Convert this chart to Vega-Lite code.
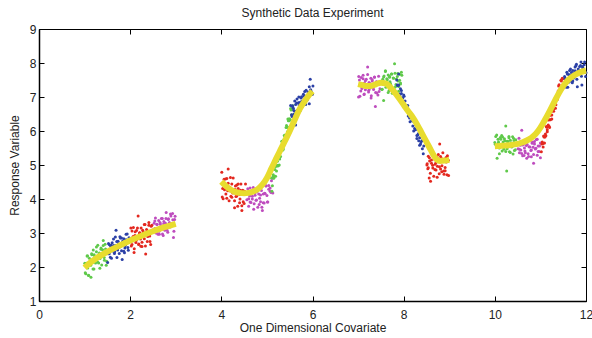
{
"$schema":"https://vega.github.io/schema/vega-lite/v6.json",
"width":547,"height":272,
"autosize":{"type":"none"},
"padding":{"left":39,"top":29,"right":6,"bottom":37},
"title":{"text":"Synthetic Data Experiment","fontSize":12,"fontWeight":"normal","font":"Liberation Sans","color":"#222","offset":3},
"config":{
 "view":{"stroke":"#000","strokeWidth":1},
 "axis":{"labelFont":"Liberation Sans","labelFontSize":12,"labelColor":"#222","labelFlush":false,"titleFont":"Liberation Sans","titleFontSize":12,"titleFontWeight":"normal","titleColor":"#222","domainColor":"#000","domainWidth":1.5,"tickColor":"#000","tickSize":-5,"grid":false}
},
"datasets":{
"pts":[
{"x":1.005,"y":2.11,"c":"g"},{"x":1.025,"y":1.80,"c":"g"},{"x":1.04,"y":2.07,"c":"g"},{"x":1.055,"y":2.32,"c":"g"},{"x":1.07,"y":1.97,"c":"g"},{"x":1.09,"y":1.75,"c":"g"},{"x":1.105,"y":2.26,"c":"g"},{"x":1.125,"y":2.14,"c":"g"},{"x":1.14,"y":1.70,"c":"g"},{"x":1.155,"y":2.39,"c":"g"},{"x":1.175,"y":2.13,"c":"g"},{"x":1.19,"y":2.50,"c":"g"},{"x":1.205,"y":1.94,"c":"g"},{"x":1.225,"y":2.30,"c":"g"},{"x":1.24,"y":2.12,"c":"g"},{"x":1.26,"y":2.45,"c":"g"},{"x":1.275,"y":2.25,"c":"g"},{"x":1.29,"y":2.64,"c":"g"},{"x":1.31,"y":2.12,"c":"g"},{"x":1.325,"y":2.41,"c":"g"},{"x":1.34,"y":2.25,"c":"g"},{"x":1.36,"y":2.56,"c":"g"},{"x":1.375,"y":2.06,"c":"g"},{"x":1.395,"y":2.51,"c":"g"},{"x":1.41,"y":2.78,"c":"g"},{"x":1.43,"y":2.28,"c":"g"},{"x":1.45,"y":2.67,"c":"g"},{"x":1.475,"y":2.05,"c":"g"},
{"x":1.015,"y":1.83,"c":"g"},{"x":1.04,"y":2.11,"c":"g"},{"x":1.065,"y":2.32,"c":"g"},{"x":1.085,"y":1.76,"c":"g"},{"x":1.11,"y":2.14,"c":"g"},{"x":1.135,"y":2.05,"c":"g"},{"x":1.16,"y":2.36,"c":"g"},{"x":1.185,"y":1.94,"c":"g"},{"x":1.21,"y":2.36,"c":"g"},{"x":1.235,"y":2.22,"c":"g"},{"x":1.26,"y":2.59,"c":"g"},{"x":1.285,"y":2.15,"c":"g"},{"x":1.31,"y":2.37,"c":"g"},{"x":1.335,"y":1.96,"c":"g"},{"x":1.36,"y":2.52,"c":"g"},{"x":1.385,"y":2.31,"c":"g"},{"x":1.41,"y":2.63,"c":"g"},{"x":1.435,"y":2.20,"c":"g"},{"x":1.46,"y":2.53,"c":"g"},{"x":1.485,"y":2.17,"c":"g"},
{"x":1.505,"y":2.13,"c":"b"},{"x":1.525,"y":2.69,"c":"b"},{"x":1.54,"y":2.39,"c":"b"},{"x":1.555,"y":2.49,"c":"b"},{"x":1.57,"y":2.62,"c":"b"},{"x":1.59,"y":2.26,"c":"b"},{"x":1.605,"y":2.71,"c":"b"},{"x":1.625,"y":2.47,"c":"b"},{"x":1.64,"y":2.63,"c":"b"},{"x":1.655,"y":2.40,"c":"b"},{"x":1.675,"y":2.88,"c":"b"},{"x":1.69,"y":3.08,"c":"b"},{"x":1.705,"y":2.75,"c":"b"},{"x":1.725,"y":2.50,"c":"b"},{"x":1.74,"y":2.68,"c":"b"},{"x":1.76,"y":2.40,"c":"b"},{"x":1.775,"y":2.89,"c":"b"},{"x":1.79,"y":2.61,"c":"b"},{"x":1.81,"y":2.85,"c":"b"},{"x":1.825,"y":2.22,"c":"b"},{"x":1.84,"y":2.69,"c":"b"},{"x":1.86,"y":2.83,"c":"b"},{"x":1.875,"y":2.42,"c":"b"},{"x":1.895,"y":2.63,"c":"b"},{"x":1.91,"y":2.96,"c":"b"},{"x":1.93,"y":2.77,"c":"b"},{"x":1.95,"y":2.57,"c":"b"},{"x":1.975,"y":2.86,"c":"b"},
{"x":1.515,"y":2.39,"c":"b"},{"x":1.54,"y":2.66,"c":"b"},{"x":1.565,"y":2.29,"c":"b"},{"x":1.585,"y":2.64,"c":"b"},{"x":1.61,"y":2.51,"c":"b"},{"x":1.635,"y":2.82,"c":"b"},{"x":1.66,"y":2.45,"c":"b"},{"x":1.685,"y":2.63,"c":"b"},{"x":1.71,"y":2.28,"c":"b"},{"x":1.735,"y":2.76,"c":"b"},{"x":1.76,"y":2.58,"c":"b"},{"x":1.785,"y":2.85,"c":"b"},{"x":1.81,"y":2.48,"c":"b"},{"x":1.835,"y":2.76,"c":"b"},{"x":1.86,"y":2.46,"c":"b"},{"x":1.885,"y":2.56,"c":"b"},{"x":1.91,"y":2.80,"c":"b"},{"x":1.935,"y":2.97,"c":"b"},{"x":1.96,"y":2.49,"c":"b"},{"x":1.985,"y":2.80,"c":"b"},
{"x":2.005,"y":2.80,"c":"r"},{"x":2.025,"y":2.62,"c":"r"},{"x":2.04,"y":3.06,"c":"r"},{"x":2.055,"y":2.77,"c":"r"},{"x":2.07,"y":3.16,"c":"r"},{"x":2.09,"y":2.54,"c":"r"},{"x":2.105,"y":2.93,"c":"r"},{"x":2.125,"y":2.72,"c":"r"},{"x":2.14,"y":3.07,"c":"r"},{"x":2.155,"y":2.84,"c":"r"},{"x":2.175,"y":3.50,"c":"r"},{"x":2.19,"y":2.68,"c":"r"},{"x":2.205,"y":3.00,"c":"r"},{"x":2.225,"y":2.82,"c":"r"},{"x":2.24,"y":3.15,"c":"r"},{"x":2.26,"y":2.60,"c":"r"},{"x":2.275,"y":3.08,"c":"r"},{"x":2.29,"y":2.94,"c":"r"},{"x":2.31,"y":2.83,"c":"r"},{"x":2.325,"y":3.25,"c":"r"},{"x":2.34,"y":2.38,"c":"r"},{"x":2.36,"y":3.10,"c":"r"},{"x":2.375,"y":2.75,"c":"r"},{"x":2.395,"y":3.05,"c":"r"},{"x":2.41,"y":3.31,"c":"r"},{"x":2.43,"y":2.91,"c":"r"},{"x":2.45,"y":2.66,"c":"r"},{"x":2.475,"y":3.23,"c":"r"},
{"x":2.015,"y":3.15,"c":"r"},{"x":2.04,"y":2.66,"c":"r"},{"x":2.065,"y":2.90,"c":"r"},{"x":2.085,"y":2.43,"c":"r"},{"x":2.11,"y":3.04,"c":"r"},{"x":2.135,"y":2.79,"c":"r"},{"x":2.16,"y":3.15,"c":"r"},{"x":2.185,"y":2.66,"c":"r"},{"x":2.21,"y":3.01,"c":"r"},{"x":2.235,"y":2.61,"c":"r"},{"x":2.26,"y":2.73,"c":"r"},{"x":2.285,"y":3.03,"c":"r"},{"x":2.31,"y":3.25,"c":"r"},{"x":2.335,"y":2.62,"c":"r"},{"x":2.36,"y":3.01,"c":"r"},{"x":2.385,"y":2.90,"c":"r"},{"x":2.41,"y":3.23,"c":"r"},{"x":2.435,"y":2.75,"c":"r"},{"x":2.46,"y":3.20,"c":"r"},{"x":2.485,"y":3.03,"c":"r"},
{"x":2.505,"y":3.03,"c":"m"},{"x":2.525,"y":3.29,"c":"m"},{"x":2.54,"y":3.13,"c":"m"},{"x":2.555,"y":3.44,"c":"m"},{"x":2.57,"y":3.02,"c":"m"},{"x":2.59,"y":3.25,"c":"m"},{"x":2.605,"y":3.12,"c":"m"},{"x":2.625,"y":3.37,"c":"m"},{"x":2.64,"y":2.96,"c":"m"},{"x":2.655,"y":3.31,"c":"m"},{"x":2.675,"y":3.21,"c":"m"},{"x":2.69,"y":3.13,"c":"m"},{"x":2.705,"y":3.43,"c":"m"},{"x":2.725,"y":2.93,"c":"m"},{"x":2.74,"y":3.34,"c":"m"},{"x":2.76,"y":3.08,"c":"m"},{"x":2.775,"y":3.29,"c":"m"},{"x":2.79,"y":3.60,"c":"m"},{"x":2.81,"y":3.20,"c":"m"},{"x":2.825,"y":3.02,"c":"m"},{"x":2.84,"y":3.42,"c":"m"},{"x":2.86,"y":3.31,"c":"m"},{"x":2.875,"y":3.18,"c":"m"},{"x":2.895,"y":3.50,"c":"m"},{"x":2.91,"y":3.28,"c":"m"},{"x":2.93,"y":3.57,"c":"m"},{"x":2.95,"y":2.87,"c":"m"},{"x":2.975,"y":3.40,"c":"m"},
{"x":2.515,"y":3.10,"c":"m"},{"x":2.54,"y":3.35,"c":"m"},{"x":2.565,"y":3.00,"c":"m"},{"x":2.585,"y":3.26,"c":"m"},{"x":2.61,"y":2.96,"c":"m"},{"x":2.635,"y":3.05,"c":"m"},{"x":2.66,"y":3.27,"c":"m"},{"x":2.685,"y":3.43,"c":"m"},{"x":2.71,"y":2.97,"c":"m"},{"x":2.735,"y":3.27,"c":"m"},{"x":2.76,"y":3.19,"c":"m"},{"x":2.785,"y":3.43,"c":"m"},{"x":2.81,"y":3.08,"c":"m"},{"x":2.835,"y":3.40,"c":"m"},{"x":2.86,"y":3.28,"c":"m"},{"x":2.885,"y":3.56,"c":"m"},{"x":2.91,"y":3.21,"c":"m"},{"x":2.935,"y":3.39,"c":"m"},{"x":2.96,"y":3.05,"c":"m"},{"x":2.985,"y":3.49,"c":"m"},
{"x":4.01,"y":4.79,"c":"r"},{"x":4.03,"y":4.31,"c":"r"},{"x":4.04,"y":4.01,"c":"r"},{"x":4.06,"y":4.58,"c":"r"},{"x":4.08,"y":4.38,"c":"r"},{"x":4.10,"y":4.15,"c":"r"},{"x":4.12,"y":4.60,"c":"r"},{"x":4.14,"y":4.24,"c":"r"},{"x":4.15,"y":4.88,"c":"r"},{"x":4.17,"y":3.95,"c":"r"},{"x":4.19,"y":4.34,"c":"r"},{"x":4.21,"y":4.08,"c":"r"},{"x":4.23,"y":4.44,"c":"r"},{"x":4.25,"y":4.18,"c":"r"},{"x":4.26,"y":4.62,"c":"r"},{"x":4.29,"y":3.95,"c":"r"},{"x":4.30,"y":4.28,"c":"r"},{"x":4.32,"y":4.07,"c":"r"},{"x":4.34,"y":4.41,"c":"r"},{"x":4.36,"y":3.79,"c":"r"},{"x":4.37,"y":4.31,"c":"r"},{"x":4.40,"y":4.13,"c":"r"},{"x":4.41,"y":4.00,"c":"r"},{"x":4.43,"y":4.44,"c":"r"},{"x":4.45,"y":3.66,"c":"r"},{"x":4.47,"y":4.26,"c":"r"},{"x":4.50,"y":3.87,"c":"r"},{"x":4.52,"y":4.18,"c":"r"},
{"x":4.02,"y":4.06,"c":"r"},{"x":4.04,"y":4.46,"c":"r"},{"x":4.07,"y":4.27,"c":"r"},{"x":4.09,"y":4.59,"c":"r"},{"x":4.12,"y":4.02,"c":"r"},{"x":4.15,"y":4.46,"c":"r"},{"x":4.18,"y":4.24,"c":"r"},{"x":4.20,"y":4.63,"c":"r"},{"x":4.23,"y":4.05,"c":"r"},{"x":4.26,"y":4.27,"c":"r"},{"x":4.29,"y":3.74,"c":"r"},{"x":4.31,"y":4.38,"c":"r"},{"x":4.34,"y":4.09,"c":"r"},{"x":4.37,"y":4.44,"c":"r"},{"x":4.40,"y":3.89,"c":"r"},{"x":4.42,"y":4.26,"c":"r"},{"x":4.45,"y":3.80,"c":"r"},{"x":4.48,"y":3.92,"c":"r"},{"x":4.51,"y":4.23,"c":"r"},{"x":4.53,"y":4.44,"c":"r"},
{"x":4.56,"y":3.98,"c":"m"},{"x":4.58,"y":4.30,"c":"m"},{"x":4.60,"y":3.79,"c":"m"},{"x":4.62,"y":4.09,"c":"m"},{"x":4.63,"y":3.91,"c":"m"},{"x":4.66,"y":4.19,"c":"m"},{"x":4.68,"y":4.00,"c":"m"},{"x":4.70,"y":4.34,"c":"m"},{"x":4.72,"y":3.86,"c":"m"},{"x":4.74,"y":4.11,"c":"m"},{"x":4.76,"y":3.96,"c":"m"},{"x":4.78,"y":4.22,"c":"m"},{"x":4.80,"y":3.76,"c":"m"},{"x":4.82,"y":4.15,"c":"m"},{"x":4.84,"y":4.02,"c":"m"},{"x":4.86,"y":3.92,"c":"m"},{"x":4.88,"y":4.25,"c":"m"},{"x":4.90,"y":3.66,"c":"m"},{"x":4.92,"y":4.15,"c":"m"},{"x":4.94,"y":3.88,"c":"m"},{"x":4.96,"y":4.16,"c":"m"},{"x":4.98,"y":4.39,"c":"m"},{"x":5.00,"y":4.10,"c":"m"},{"x":5.02,"y":3.91,"c":"m"},{"x":5.04,"y":4.40,"c":"m"},{"x":5.07,"y":4.32,"c":"m"},{"x":5.09,"y":4.19,"c":"m"},{"x":5.12,"y":4.61,"c":"m"},
{"x":4.57,"y":4.16,"c":"m"},{"x":4.60,"y":4.01,"c":"m"},{"x":4.63,"y":4.32,"c":"m"},{"x":4.65,"y":3.90,"c":"m"},{"x":4.68,"y":4.08,"c":"m"},{"x":4.71,"y":3.70,"c":"m"},{"x":4.74,"y":4.18,"c":"m"},{"x":4.77,"y":3.97,"c":"m"},{"x":4.80,"y":4.25,"c":"m"},{"x":4.83,"y":3.84,"c":"m"},{"x":4.86,"y":4.12,"c":"m"},{"x":4.89,"y":3.76,"c":"m"},{"x":4.92,"y":3.89,"c":"m"},{"x":4.95,"y":4.17,"c":"m"},{"x":4.98,"y":4.38,"c":"m"},{"x":5.01,"y":3.91,"c":"m"},{"x":5.04,"y":4.29,"c":"m"},{"x":5.07,"y":4.23,"c":"m"},{"x":5.10,"y":4.54,"c":"m"},{"x":5.13,"y":4.18,"c":"m"},
{"x":5.10,"y":4.62,"c":"g"},{"x":5.12,"y":4.39,"c":"g"},{"x":5.14,"y":4.66,"c":"g"},{"x":5.15,"y":4.61,"c":"g"},{"x":5.17,"y":4.87,"c":"g"},{"x":5.19,"y":4.67,"c":"g"},{"x":5.20,"y":4.97,"c":"g"},{"x":5.22,"y":4.99,"c":"g"},{"x":5.23,"y":4.97,"c":"g"},{"x":5.25,"y":5.30,"c":"g"},{"x":5.27,"y":5.00,"c":"g"},{"x":5.28,"y":5.35,"c":"g"},{"x":5.30,"y":5.25,"c":"g"},{"x":5.32,"y":5.51,"c":"g"},{"x":5.33,"y":5.70,"c":"g"},{"x":5.35,"y":5.58,"c":"g"},{"x":5.36,"y":5.47,"c":"g"},{"x":5.38,"y":5.87,"c":"g"},{"x":5.40,"y":5.88,"c":"g"},{"x":5.41,"y":5.83,"c":"g"},{"x":5.43,"y":6.16,"c":"g"},{"x":5.45,"y":6.10,"c":"g"},{"x":5.46,"y":6.35,"c":"g"},{"x":5.48,"y":6.10,"c":"g"},{"x":5.49,"y":6.36,"c":"g"},{"x":5.51,"y":6.34,"c":"g"},{"x":5.53,"y":6.62,"c":"g"},{"x":5.56,"y":6.64,"c":"g"},
{"x":5.11,"y":4.23,"c":"g"},{"x":5.14,"y":4.71,"c":"g"},{"x":5.16,"y":4.66,"c":"g"},{"x":5.18,"y":4.94,"c":"g"},{"x":5.21,"y":4.82,"c":"g"},{"x":5.23,"y":5.11,"c":"g"},{"x":5.25,"y":4.98,"c":"g"},{"x":5.28,"y":5.18,"c":"g"},{"x":5.30,"y":5.43,"c":"g"},{"x":5.33,"y":5.69,"c":"g"},{"x":5.35,"y":5.44,"c":"g"},{"x":5.37,"y":5.74,"c":"g"},{"x":5.40,"y":5.82,"c":"g"},{"x":5.42,"y":6.10,"c":"g"},{"x":5.45,"y":5.98,"c":"g"},{"x":5.47,"y":6.30,"c":"g"},{"x":5.49,"y":6.30,"c":"g"},{"x":5.52,"y":6.66,"c":"g"},{"x":5.54,"y":6.48,"c":"g"},{"x":5.57,"y":6.74,"c":"g"},
{"x":5.52,"y":6.75,"c":"b"},{"x":5.55,"y":6.43,"c":"b"},{"x":5.56,"y":6.74,"c":"b"},{"x":5.58,"y":6.67,"c":"b"},{"x":5.59,"y":6.60,"c":"b"},{"x":5.61,"y":6.88,"c":"b"},{"x":5.63,"y":6.18,"c":"b"},{"x":5.65,"y":6.82,"c":"b"},{"x":5.66,"y":6.60,"c":"b"},{"x":5.68,"y":6.82,"c":"b"},{"x":5.70,"y":7.00,"c":"b"},{"x":5.71,"y":6.75,"c":"b"},{"x":5.73,"y":6.60,"c":"b"},{"x":5.75,"y":6.97,"c":"b"},{"x":5.76,"y":6.87,"c":"b"},{"x":5.78,"y":6.78,"c":"b"},{"x":5.80,"y":7.08,"c":"b"},{"x":5.81,"y":6.89,"c":"b"},{"x":5.83,"y":7.16,"c":"b"},{"x":5.85,"y":6.78,"c":"b"},{"x":5.86,"y":7.03,"c":"b"},{"x":5.88,"y":6.92,"c":"b"},{"x":5.90,"y":7.15,"c":"b"},{"x":5.92,"y":7.03,"c":"b"},{"x":5.93,"y":7.30,"c":"b"},{"x":5.95,"y":7.52,"c":"b"},{"x":5.97,"y":7.17,"c":"b"},{"x":6.00,"y":7.08,"c":"b"},
{"x":5.54,"y":6.48,"c":"b"},{"x":5.56,"y":6.72,"c":"b"},{"x":5.59,"y":6.49,"c":"b"},{"x":5.61,"y":6.58,"c":"b"},{"x":5.63,"y":6.78,"c":"b"},{"x":5.66,"y":6.94,"c":"b"},{"x":5.68,"y":6.56,"c":"b"},{"x":5.71,"y":6.84,"c":"b"},{"x":5.73,"y":6.77,"c":"b"},{"x":5.76,"y":7.01,"c":"b"},{"x":5.78,"y":6.72,"c":"b"},{"x":5.81,"y":7.03,"c":"b"},{"x":5.83,"y":6.93,"c":"b"},{"x":5.86,"y":7.20,"c":"b"},{"x":5.88,"y":6.91,"c":"b"},{"x":5.91,"y":7.08,"c":"b"},{"x":5.93,"y":6.80,"c":"b"},{"x":5.96,"y":7.21,"c":"b"},{"x":5.98,"y":7.07,"c":"b"},{"x":6.01,"y":7.32,"c":"b"},
{"x":7.01,"y":7.00,"c":"m"},{"x":7.03,"y":7.50,"c":"m"},{"x":7.04,"y":7.35,"c":"m"},{"x":7.06,"y":7.18,"c":"m"},{"x":7.07,"y":7.57,"c":"m"},{"x":7.09,"y":7.29,"c":"m"},{"x":7.11,"y":7.64,"c":"m"},{"x":7.13,"y":7.07,"c":"m"},{"x":7.14,"y":7.41,"c":"m"},{"x":7.16,"y":7.21,"c":"m"},{"x":7.18,"y":7.52,"c":"m"},{"x":7.19,"y":7.31,"c":"m"},{"x":7.21,"y":7.88,"c":"m"},{"x":7.23,"y":7.15,"c":"m"},{"x":7.24,"y":7.43,"c":"m"},{"x":7.26,"y":7.26,"c":"m"},{"x":7.28,"y":7.55,"c":"m"},{"x":7.29,"y":7.04,"c":"m"},{"x":7.31,"y":7.47,"c":"m"},{"x":7.33,"y":7.33,"c":"m"},{"x":7.34,"y":7.22,"c":"m"},{"x":7.36,"y":7.59,"c":"m"},{"x":7.38,"y":6.72,"c":"m"},{"x":7.40,"y":7.45,"c":"m"},{"x":7.41,"y":7.12,"c":"m"},{"x":7.43,"y":7.38,"c":"m"},{"x":7.45,"y":7.61,"c":"m"},{"x":7.48,"y":7.24,"c":"m"},
{"x":7.015,"y":7.60,"c":"m"},{"x":7.04,"y":7.02,"c":"m"},{"x":7.065,"y":7.37,"c":"m"},{"x":7.085,"y":7.25,"c":"m"},{"x":7.11,"y":7.54,"c":"m"},{"x":7.135,"y":7.09,"c":"m"},{"x":7.16,"y":7.48,"c":"m"},{"x":7.185,"y":7.32,"c":"m"},{"x":7.21,"y":7.66,"c":"m"},{"x":7.235,"y":7.20,"c":"m"},{"x":7.26,"y":7.40,"c":"m"},{"x":7.285,"y":6.97,"c":"m"},{"x":7.31,"y":7.51,"c":"m"},{"x":7.335,"y":7.28,"c":"m"},{"x":7.36,"y":7.58,"c":"m"},{"x":7.385,"y":7.13,"c":"m"},{"x":7.41,"y":7.44,"c":"m"},{"x":7.435,"y":7.06,"c":"m"},{"x":7.46,"y":7.16,"c":"m"},{"x":7.485,"y":7.42,"c":"m"},
{"x":7.52,"y":7.22,"c":"g"},{"x":7.54,"y":7.52,"c":"g"},{"x":7.56,"y":6.90,"c":"g"},{"x":7.57,"y":7.62,"c":"g"},{"x":7.58,"y":7.43,"c":"g"},{"x":7.60,"y":7.77,"c":"g"},{"x":7.61,"y":7.29,"c":"g"},{"x":7.63,"y":7.54,"c":"g"},{"x":7.65,"y":7.39,"c":"g"},{"x":7.66,"y":7.65,"c":"g"},{"x":7.68,"y":7.19,"c":"g"},{"x":7.69,"y":7.58,"c":"g"},{"x":7.70,"y":7.45,"c":"g"},{"x":7.72,"y":7.35,"c":"g"},{"x":7.74,"y":7.68,"c":"g"},{"x":7.75,"y":7.11,"c":"g"},{"x":7.77,"y":7.56,"c":"g"},{"x":7.78,"y":7.26,"c":"g"},{"x":7.80,"y":7.98,"c":"g"},{"x":7.81,"y":7.70,"c":"g"},{"x":7.83,"y":7.37,"c":"g"},{"x":7.84,"y":7.15,"c":"g"},{"x":7.86,"y":7.60,"c":"g"},{"x":7.88,"y":7.47,"c":"g"},{"x":7.89,"y":7.31,"c":"g"},{"x":7.91,"y":7.67,"c":"g"},{"x":7.93,"y":7.41,"c":"g"},{"x":7.95,"y":7.73,"c":"g"},
{"x":7.53,"y":7.23,"c":"g"},{"x":7.56,"y":7.59,"c":"g"},{"x":7.58,"y":7.44,"c":"g"},{"x":7.60,"y":7.75,"c":"g"},{"x":7.62,"y":7.33,"c":"g"},{"x":7.64,"y":7.51,"c":"g"},{"x":7.66,"y":7.13,"c":"g"},{"x":7.69,"y":7.61,"c":"g"},{"x":7.71,"y":7.40,"c":"g"},{"x":7.73,"y":7.68,"c":"g"},{"x":7.75,"y":7.27,"c":"g"},{"x":7.78,"y":7.55,"c":"g"},{"x":7.80,"y":7.21,"c":"g"},{"x":7.82,"y":7.30,"c":"g"},{"x":7.84,"y":7.53,"c":"g"},{"x":7.87,"y":7.69,"c":"g"},{"x":7.89,"y":7.17,"c":"g"},{"x":7.91,"y":7.49,"c":"g"},{"x":7.93,"y":7.38,"c":"g"},{"x":7.96,"y":7.64,"c":"g"},
{"x":7.85,"y":7.50,"c":"b"},{"x":7.87,"y":7.34,"c":"b"},{"x":7.89,"y":7.68,"c":"b"},{"x":7.91,"y":7.09,"c":"b"},{"x":7.93,"y":7.24,"c":"b"},{"x":7.95,"y":7.10,"c":"b"},{"x":7.97,"y":6.97,"c":"b"},{"x":8.00,"y":7.06,"c":"b"},{"x":8.01,"y":6.70,"c":"b"},{"x":8.03,"y":6.88,"c":"b"},{"x":8.06,"y":6.61,"c":"b"},{"x":8.08,"y":6.68,"c":"b"},{"x":8.09,"y":6.75,"c":"b"},{"x":8.12,"y":6.45,"c":"b"},{"x":8.14,"y":6.27,"c":"b"},{"x":8.16,"y":6.46,"c":"b"},{"x":8.18,"y":6.31,"c":"b"},{"x":8.20,"y":6.15,"c":"b"},{"x":8.22,"y":6.28,"c":"b"},{"x":8.24,"y":6.07,"c":"b"},{"x":8.26,"y":6.18,"c":"b"},{"x":8.29,"y":5.78,"c":"b"},{"x":8.31,"y":5.88,"c":"b"},{"x":8.33,"y":5.71,"c":"b"},{"x":8.35,"y":5.80,"c":"b"},{"x":8.37,"y":5.62,"c":"b"},{"x":8.40,"y":5.71,"c":"b"},{"x":8.43,"y":5.33,"c":"b"},
{"x":7.86,"y":7.35,"c":"b"},{"x":7.89,"y":7.35,"c":"b"},{"x":7.92,"y":7.03,"c":"b"},{"x":7.95,"y":7.19,"c":"b"},{"x":7.98,"y":6.97,"c":"b"},{"x":8.01,"y":7.02,"c":"b"},{"x":8.04,"y":6.69,"c":"b"},{"x":8.07,"y":6.74,"c":"b"},{"x":8.10,"y":6.44,"c":"b"},{"x":8.13,"y":6.38,"c":"b"},{"x":8.16,"y":6.42,"c":"b"},{"x":8.19,"y":6.40,"c":"b"},{"x":8.22,"y":6.00,"c":"b"},{"x":8.26,"y":6.04,"c":"b"},{"x":8.29,"y":5.87,"c":"b"},{"x":8.32,"y":5.92,"c":"b"},{"x":8.35,"y":5.58,"c":"b"},{"x":8.38,"y":5.68,"c":"b"},{"x":8.41,"y":5.48,"c":"b"},{"x":8.44,"y":5.56,"c":"b"},
{"x":8.51,"y":5.00,"c":"r"},{"x":8.53,"y":4.89,"c":"r"},{"x":8.54,"y":5.26,"c":"r"},{"x":8.56,"y":4.62,"c":"r"},{"x":8.57,"y":5.12,"c":"r"},{"x":8.59,"y":4.52,"c":"r"},{"x":8.61,"y":5.05,"c":"r"},{"x":8.63,"y":5.28,"c":"r"},{"x":8.64,"y":4.91,"c":"r"},{"x":8.66,"y":4.67,"c":"r"},{"x":8.68,"y":5.17,"c":"r"},{"x":8.69,"y":5.02,"c":"r"},{"x":8.71,"y":4.85,"c":"r"},{"x":8.73,"y":5.24,"c":"r"},{"x":8.74,"y":4.96,"c":"r"},{"x":8.76,"y":5.31,"c":"r"},{"x":8.78,"y":4.74,"c":"r"},{"x":8.79,"y":5.62,"c":"r"},{"x":8.81,"y":4.88,"c":"r"},{"x":8.83,"y":5.19,"c":"r"},{"x":8.84,"y":4.98,"c":"r"},{"x":8.86,"y":5.36,"c":"r"},{"x":8.88,"y":4.82,"c":"r"},{"x":8.90,"y":5.10,"c":"r"},{"x":8.91,"y":4.93,"c":"r"},{"x":8.93,"y":5.22,"c":"r"},{"x":8.95,"y":4.71,"c":"r"},{"x":8.98,"y":5.14,"c":"r"},
{"x":8.515,"y":5.04,"c":"r"},{"x":8.54,"y":4.92,"c":"r"},{"x":8.565,"y":5.21,"c":"r"},{"x":8.585,"y":4.76,"c":"r"},{"x":8.61,"y":5.15,"c":"r"},{"x":8.635,"y":4.99,"c":"r"},{"x":8.66,"y":5.33,"c":"r"},{"x":8.685,"y":4.87,"c":"r"},{"x":8.71,"y":5.07,"c":"r"},{"x":8.735,"y":4.64,"c":"r"},{"x":8.76,"y":5.18,"c":"r"},{"x":8.785,"y":4.95,"c":"r"},{"x":8.81,"y":5.25,"c":"r"},{"x":8.835,"y":4.80,"c":"r"},{"x":8.86,"y":5.11,"c":"r"},{"x":8.885,"y":4.73,"c":"r"},{"x":8.91,"y":4.83,"c":"r"},{"x":8.935,"y":5.09,"c":"r"},{"x":8.96,"y":5.27,"c":"r"},{"x":8.985,"y":4.69,"c":"r"},
{"x":10.00,"y":5.66,"c":"g"},{"x":10.02,"y":5.84,"c":"g"},{"x":10.04,"y":5.55,"c":"g"},{"x":10.05,"y":5.20,"c":"g"},{"x":10.07,"y":5.76,"c":"g"},{"x":10.08,"y":5.64,"c":"g"},{"x":10.10,"y":5.50,"c":"g"},{"x":10.12,"y":5.81,"c":"g"},{"x":10.13,"y":5.59,"c":"g"},{"x":10.15,"y":5.87,"c":"g"},{"x":10.16,"y":5.41,"c":"g"},{"x":10.18,"y":5.68,"c":"g"},{"x":10.19,"y":5.52,"c":"g"},{"x":10.21,"y":5.77,"c":"g"},{"x":10.23,"y":5.60,"c":"g"},{"x":10.24,"y":6.15,"c":"g"},{"x":10.26,"y":4.82,"c":"g"},{"x":10.27,"y":5.70,"c":"g"},{"x":10.29,"y":5.56,"c":"g"},{"x":10.31,"y":5.80,"c":"g"},{"x":10.32,"y":5.39,"c":"g"},{"x":10.34,"y":5.73,"c":"g"},{"x":10.35,"y":5.62,"c":"g"},{"x":10.37,"y":5.53,"c":"g"},{"x":10.39,"y":5.83,"c":"g"},{"x":10.40,"y":5.32,"c":"g"},{"x":10.42,"y":5.72,"c":"g"},{"x":10.45,"y":5.45,"c":"g"},
{"x":10.01,"y":5.61,"c":"g"},{"x":10.04,"y":5.88,"c":"g"},{"x":10.06,"y":5.52,"c":"g"},{"x":10.08,"y":5.68,"c":"g"},{"x":10.10,"y":5.33,"c":"g"},{"x":10.13,"y":5.76,"c":"g"},{"x":10.15,"y":5.58,"c":"g"},{"x":10.17,"y":5.82,"c":"g"},{"x":10.20,"y":5.46,"c":"g"},{"x":10.22,"y":5.71,"c":"g"},{"x":10.24,"y":5.40,"c":"g"},{"x":10.27,"y":5.48,"c":"g"},{"x":10.29,"y":5.69,"c":"g"},{"x":10.31,"y":5.84,"c":"g"},{"x":10.34,"y":5.37,"c":"g"},{"x":10.36,"y":5.65,"c":"g"},{"x":10.39,"y":5.56,"c":"g"},{"x":10.41,"y":5.79,"c":"g"},{"x":10.43,"y":5.43,"c":"g"},{"x":10.46,"y":5.74,"c":"g"},
{"x":10.51,"y":5.48,"c":"m"},{"x":10.53,"y":5.79,"c":"m"},{"x":10.54,"y":5.36,"c":"m"},{"x":10.56,"y":5.58,"c":"m"},{"x":10.57,"y":5.44,"c":"m"},{"x":10.59,"y":6.02,"c":"m"},{"x":10.61,"y":5.27,"c":"m"},{"x":10.63,"y":5.61,"c":"m"},{"x":10.65,"y":5.50,"c":"m"},{"x":10.66,"y":5.41,"c":"m"},{"x":10.68,"y":5.71,"c":"m"},{"x":10.70,"y":5.20,"c":"m"},{"x":10.71,"y":5.60,"c":"m"},{"x":10.73,"y":5.33,"c":"m"},{"x":10.75,"y":5.54,"c":"m"},{"x":10.77,"y":5.72,"c":"m"},{"x":10.79,"y":5.43,"c":"m"},{"x":10.80,"y":5.24,"c":"m"},{"x":10.82,"y":5.64,"c":"m"},{"x":10.84,"y":5.52,"c":"m"},{"x":10.85,"y":5.05,"c":"m"},{"x":10.87,"y":5.69,"c":"m"},{"x":10.89,"y":5.47,"c":"m"},{"x":10.91,"y":5.75,"c":"m"},{"x":10.93,"y":5.29,"c":"m"},{"x":10.95,"y":5.56,"c":"m"},{"x":10.97,"y":5.40,"c":"m"},{"x":11.00,"y":5.65,"c":"m"},
{"x":10.52,"y":5.64,"c":"m"},{"x":10.54,"y":5.46,"c":"m"},{"x":10.57,"y":5.70,"c":"m"},{"x":10.59,"y":5.34,"c":"m"},{"x":10.61,"y":5.59,"c":"m"},{"x":10.64,"y":5.28,"c":"m"},{"x":10.67,"y":5.36,"c":"m"},{"x":10.69,"y":5.57,"c":"m"},{"x":10.72,"y":5.72,"c":"m"},{"x":10.74,"y":5.25,"c":"m"},{"x":10.77,"y":5.53,"c":"m"},{"x":10.80,"y":5.44,"c":"m"},{"x":10.82,"y":5.67,"c":"m"},{"x":10.85,"y":5.31,"c":"m"},{"x":10.87,"y":5.62,"c":"m"},{"x":10.90,"y":5.49,"c":"m"},{"x":10.93,"y":5.76,"c":"m"},{"x":10.95,"y":5.40,"c":"m"},{"x":10.98,"y":5.56,"c":"m"},{"x":11.00,"y":5.21,"c":"m"},
{"x":11.02,"y":5.39,"c":"r"},{"x":11.04,"y":5.68,"c":"r"},{"x":11.06,"y":5.63,"c":"r"},{"x":11.07,"y":5.85,"c":"r"},{"x":11.09,"y":5.65,"c":"r"},{"x":11.11,"y":5.91,"c":"r"},{"x":11.12,"y":5.86,"c":"r"},{"x":11.14,"y":6.11,"c":"r"},{"x":11.15,"y":6.04,"c":"r"},{"x":11.17,"y":6.32,"c":"r"},{"x":11.19,"y":6.14,"c":"r"},{"x":11.20,"y":6.33,"c":"r"},{"x":11.22,"y":6.33,"c":"r"},{"x":11.24,"y":6.57,"c":"r"},{"x":11.25,"y":6.35,"c":"r"},{"x":11.27,"y":6.66,"c":"r"},{"x":11.28,"y":6.64,"c":"r"},{"x":11.30,"y":6.67,"c":"r"},{"x":11.32,"y":6.95,"c":"r"},{"x":11.33,"y":6.67,"c":"r"},{"x":11.35,"y":7.01,"c":"r"},{"x":11.37,"y":6.93,"c":"r"},{"x":11.38,"y":7.12,"c":"r"},{"x":11.40,"y":7.32,"c":"r"},{"x":11.41,"y":7.17,"c":"r"},{"x":11.43,"y":7.14,"c":"r"},{"x":11.45,"y":7.49,"c":"r"},{"x":11.48,"y":7.55,"c":"r"},
{"x":11.03,"y":5.62,"c":"r"},{"x":11.06,"y":5.53,"c":"r"},{"x":11.08,"y":5.82,"c":"r"},{"x":11.10,"y":5.82,"c":"r"},{"x":11.13,"y":6.13,"c":"r"},{"x":11.15,"y":5.98,"c":"r"},{"x":11.17,"y":6.18,"c":"r"},{"x":11.20,"y":6.10,"c":"r"},{"x":11.22,"y":6.46,"c":"r"},{"x":11.25,"y":6.47,"c":"r"},{"x":11.27,"y":6.72,"c":"r"},{"x":11.29,"y":6.58,"c":"r"},{"x":11.32,"y":6.88,"c":"r"},{"x":11.34,"y":6.77,"c":"r"},{"x":11.37,"y":6.95,"c":"r"},{"x":11.39,"y":7.18,"c":"r"},{"x":11.41,"y":7.36,"c":"r"},{"x":11.44,"y":7.20,"c":"r"},{"x":11.46,"y":7.47,"c":"r"},{"x":11.49,"y":7.54,"c":"r"},
{"x":11.53,"y":7.60,"c":"b"},{"x":11.55,"y":7.52,"c":"b"},{"x":11.57,"y":7.46,"c":"b"},{"x":11.58,"y":7.73,"c":"b"},{"x":11.60,"y":7.29,"c":"b"},{"x":11.62,"y":7.66,"c":"b"},{"x":11.63,"y":7.44,"c":"b"},{"x":11.65,"y":7.65,"c":"b"},{"x":11.66,"y":7.82,"c":"b"},{"x":11.68,"y":7.58,"c":"b"},{"x":11.70,"y":7.42,"c":"b"},{"x":11.71,"y":7.78,"c":"b"},{"x":11.73,"y":7.69,"c":"b"},{"x":11.75,"y":7.59,"c":"b"},{"x":11.76,"y":7.88,"c":"b"},{"x":11.78,"y":7.70,"c":"b"},{"x":11.79,"y":7.96,"c":"b"},{"x":11.81,"y":7.30,"c":"b"},{"x":11.83,"y":7.82,"c":"b"},{"x":11.84,"y":7.68,"c":"b"},{"x":11.86,"y":7.90,"c":"b"},{"x":11.88,"y":7.77,"c":"b"},{"x":11.89,"y":8.03,"c":"b"},{"x":11.91,"y":7.35,"c":"b"},{"x":11.93,"y":7.86,"c":"b"},{"x":11.94,"y":7.74,"c":"b"},{"x":11.96,"y":7.95,"c":"b"},{"x":11.99,"y":7.60,"c":"b"},
{"x":11.54,"y":7.56,"c":"b"},{"x":11.57,"y":7.29,"c":"b"},{"x":11.59,"y":7.68,"c":"b"},{"x":11.61,"y":7.53,"c":"b"},{"x":11.64,"y":7.78,"c":"b"},{"x":11.66,"y":7.48,"c":"b"},{"x":11.68,"y":7.72,"c":"b"},{"x":11.71,"y":7.47,"c":"b"},{"x":11.73,"y":7.56,"c":"b"},{"x":11.76,"y":7.77,"c":"b"},{"x":11.78,"y":7.92,"c":"b"},{"x":11.80,"y":7.52,"c":"b"},{"x":11.83,"y":7.79,"c":"b"},{"x":11.85,"y":7.71,"c":"b"},{"x":11.88,"y":7.93,"c":"b"},{"x":11.90,"y":7.61,"c":"b"},{"x":11.92,"y":7.90,"c":"b"},{"x":11.95,"y":7.79,"c":"b"},{"x":11.97,"y":8.03,"c":"b"},{"x":12.00,"y":7.71,"c":"b"}
],
"fit":[
{"x":1.0,"y":1.98,"s":1},{"x":1.1,"y":2.10,"s":1},{"x":1.25,"y":2.25,"s":1},{"x":1.5,"y":2.45,"s":1},{"x":1.75,"y":2.62,"s":1},{"x":2.0,"y":2.78,"s":1},{"x":2.25,"y":2.92,"s":1},{"x":2.5,"y":3.05,"s":1},{"x":2.75,"y":3.17,"s":1},{"x":3.0,"y":3.27,"s":1},
{"x":4.0,"y":4.51,"s":2},{"x":4.1,"y":4.38,"s":2},{"x":4.2,"y":4.28,"s":2},{"x":4.3,"y":4.21,"s":2},{"x":4.4,"y":4.18,"s":2},{"x":4.5,"y":4.17,"s":2},{"x":4.6,"y":4.18,"s":2},{"x":4.7,"y":4.22,"s":2},{"x":4.8,"y":4.29,"s":2},{"x":4.9,"y":4.42,"s":2},{"x":5.0,"y":4.62,"s":2},{"x":5.1,"y":4.90,"s":2},{"x":5.2,"y":5.18,"s":2},{"x":5.3,"y":5.45,"s":2},{"x":5.4,"y":5.72,"s":2},{"x":5.5,"y":6.00,"s":2},{"x":5.6,"y":6.30,"s":2},{"x":5.7,"y":6.60,"s":2},{"x":5.8,"y":6.82,"s":2},{"x":5.9,"y":7.02,"s":2},{"x":6.0,"y":7.17,"s":2},
{"x":7.0,"y":7.38,"s":3},{"x":7.1,"y":7.35,"s":3},{"x":7.2,"y":7.32,"s":3},{"x":7.3,"y":7.33,"s":3},{"x":7.4,"y":7.38,"s":3},{"x":7.5,"y":7.42,"s":3},{"x":7.6,"y":7.40,"s":3},{"x":7.7,"y":7.30,"s":3},{"x":7.8,"y":7.14,"s":3},{"x":7.9,"y":6.96,"s":3},{"x":8.0,"y":6.77,"s":3},{"x":8.1,"y":6.58,"s":3},{"x":8.2,"y":6.40,"s":3},{"x":8.3,"y":6.18,"s":3},{"x":8.4,"y":5.93,"s":3},{"x":8.5,"y":5.68,"s":3},{"x":8.6,"y":5.43,"s":3},{"x":8.7,"y":5.20,"s":3},{"x":8.8,"y":5.12,"s":3},{"x":8.9,"y":5.13,"s":3},{"x":9.0,"y":5.15,"s":3},
{"x":10.0,"y":5.55,"s":4},{"x":10.1,"y":5.56,"s":4},{"x":10.2,"y":5.57,"s":4},{"x":10.3,"y":5.58,"s":4},{"x":10.4,"y":5.60,"s":4},{"x":10.5,"y":5.62,"s":4},{"x":10.6,"y":5.66,"s":4},{"x":10.7,"y":5.72,"s":4},{"x":10.8,"y":5.80,"s":4},{"x":10.9,"y":5.92,"s":4},{"x":11.0,"y":6.10,"s":4},{"x":11.1,"y":6.33,"s":4},{"x":11.2,"y":6.58,"s":4},{"x":11.3,"y":6.84,"s":4},{"x":11.4,"y":7.10,"s":4},{"x":11.5,"y":7.32,"s":4},{"x":11.6,"y":7.49,"s":4},{"x":11.7,"y":7.60,"s":4},{"x":11.8,"y":7.68,"s":4},{"x":11.9,"y":7.74,"s":4},{"x":12.0,"y":7.78,"s":4}
]
},
"layer":[
{"data":{"name":"pts"},
 "mark":{"type":"circle","size":9,"opacity":1},
 "encoding":{
  "x":{"field":"x","type":"quantitative","scale":{"domain":[0,12],"nice":false},"axis":{"orient":"bottom","values":[0,2,4,6,8,10,12],"title":"One Dimensional Covariate","labelPadding":13,"titlePadding":2}},
  "y":{"field":"y","type":"quantitative","scale":{"domain":[1,9],"nice":false},"axis":{"orient":"left","values":[1,2,3,4,5,6,7,8,9],"title":"Response Variable","labelPadding":8,"titlePadding":8}},
  "color":{"field":"c","type":"nominal","scale":{"domain":["g","b","r","m"],"range":["#5FC94A","#2B40A6","#E3281F","#BE4CBE"]},"legend":null}
 }},
{"data":{"name":"fit"},
 "mark":{"type":"line","color":"#E8DC2E","strokeWidth":6,"interpolate":"monotone"},
 "encoding":{
  "x":{"field":"x","type":"quantitative","axis":{"orient":"top","values":[0,2,4,6,8,10,12],"labels":false,"domain":false,"title":null}},
  "y":{"field":"y","type":"quantitative","axis":{"orient":"right","values":[1,2,3,4,5,6,7,8,9],"labels":false,"domain":false,"title":null}},
  "detail":{"field":"s","type":"nominal"}
 }}
],
"resolve":{"axis":{"x":"independent","y":"independent"}}
}
